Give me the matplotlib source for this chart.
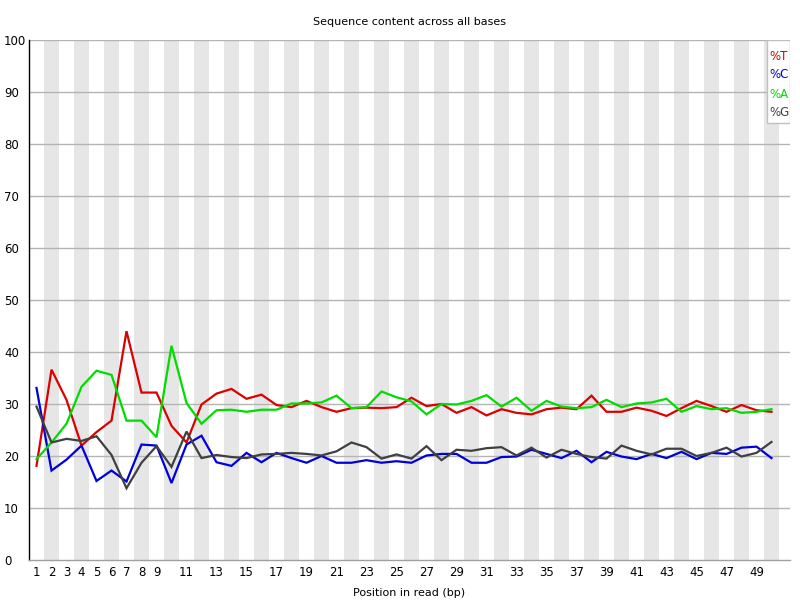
import matplotlib
matplotlib.use("Agg")
import matplotlib.pyplot as plt

positions = list(range(1, 51))

pct_T = [18.1, 36.6, 30.8, 22.0, 24.6, 26.8, 44.0, 32.2, 32.2, 25.8,
         22.6, 29.9, 32.0, 32.9, 31.0, 31.8, 29.8, 29.4, 30.6, 29.4,
         28.5, 29.2, 29.3, 29.2, 29.4, 31.2, 29.6, 30.0, 28.3, 29.4,
         27.8, 29.0, 28.3, 28.0, 29.0, 29.3, 29.0, 31.6, 28.5, 28.5,
         29.3, 28.7, 27.7, 29.2, 30.6, 29.6, 28.5, 29.8, 28.8, 28.5]

pct_C = [33.1, 17.2, 19.3, 22.0, 15.2, 17.2, 15.1, 22.2, 22.0, 14.8,
         22.2, 23.9, 18.8, 18.1, 20.6, 18.8, 20.6, 19.6, 18.7, 20.0,
         18.7, 18.7, 19.2, 18.7, 19.0, 18.7, 20.1, 20.4, 20.4, 18.7,
         18.7, 19.8, 19.9, 21.2, 20.4, 19.6, 21.0, 18.8, 20.8, 19.9,
         19.4, 20.4, 19.6, 20.8, 19.4, 20.6, 20.4, 21.6, 21.8, 19.6]

pct_A = [19.4, 22.6, 26.2, 33.3, 36.4, 35.6, 26.8, 26.8, 23.6, 41.2,
         30.2, 26.2, 28.8, 28.9, 28.5, 28.9, 28.9, 30.1, 30.1, 30.3,
         31.6, 29.2, 29.4, 32.4, 31.3, 30.5, 28.0, 30.0, 29.9, 30.6,
         31.7, 29.5, 31.2, 28.7, 30.6, 29.5, 29.2, 29.4, 30.8, 29.4,
         30.1, 30.3, 31.0, 28.5, 29.6, 29.0, 29.2, 28.3, 28.5, 29.0]

pct_G = [29.5, 22.6, 23.3, 22.9, 23.8, 20.2, 13.8, 18.7, 21.9, 17.9,
         24.7, 19.6, 20.2, 19.8, 19.6, 20.3, 20.4, 20.6, 20.4, 20.1,
         20.9, 22.6, 21.7, 19.5, 20.3, 19.5, 21.9, 19.2, 21.2, 21.0,
         21.5, 21.7, 20.1, 21.6, 19.7, 21.2, 20.4, 19.8, 19.5, 22.0,
         21.0, 20.3, 21.4, 21.4, 20.0, 20.6, 21.6, 19.9, 20.6, 22.7]

x_tick_labels = [1, 2, 3, 4, 5, 6, 7, 8, 9] + list(range(11, 50, 2))
y_ticks = list(range(0, 101, 10))

series = [("%T", pct_T, "#dc0000"), ("%C", pct_C, "#0000dc"),
          ("%A", pct_A, "#00dc00"), ("%G", pct_G, "#404040")]

fig = plt.figure(figsize=(8, 6), dpi=100)
W, H = 800, 600
ax = fig.add_axes([29 / W, 1 - 560 / H, (790 - 29) / W, (560 - 40) / H])

ax.set_xlim(0.5, 0.5 + 761 / 15)
ax.set_ylim(0, 100)

for p in positions:
    if p % 2 == 0:
        ax.axvspan(p - 0.5, p + 0.5, color="#e6e6e6", lw=0, zorder=0)

for y in y_ticks[1:]:
    ax.axhline(y, color="#b4b4b4", lw=1, zorder=1)

for name, vals, col in series:
    ax.plot(positions, vals, color=col, lw=1.6, zorder=3, solid_joinstyle="miter")

for s in ["top", "right"]:
    ax.spines[s].set_visible(False)
ax.spines["left"].set_color("black")
ax.spines["left"].set_linewidth(1)
ax.spines["bottom"].set_color("#a0a0a0")
ax.spines["bottom"].set_linewidth(1)

ax.set_yticks(y_ticks)
ax.set_yticklabels([str(v) for v in y_ticks], fontsize=8.5)
ax.tick_params(axis="y", length=0, pad=18)
for lab in ax.get_yticklabels():
    lab.set_horizontalalignment("left")

ax.set_xticks(x_tick_labels)
ax.set_xticklabels([str(v) for v in x_tick_labels], fontsize=8.5)
ax.tick_params(axis="x", length=0, pad=4)

ax.set_title("Sequence content across all bases", fontsize=8, pad=11)
ax.set_xlabel("Position in read (bp)", fontsize=8, labelpad=7)

# legend box
lx0, lx1, ly0, ly1 = 767, 790, 40, 123
ax.add_patch(plt.Rectangle((lx0 / W, 1 - ly1 / H), (lx1 - lx0) / W, (ly1 - ly0) / H,
                           transform=fig.transFigure, facecolor="white",
                           edgecolor="#c0c0c0", lw=1, zorder=5))
for i, (name, vals, col) in enumerate(series):
    fig.text((lx0 + 2) / W, 1 - (56 + 19 * i) / H, name, color=col,
             fontsize=8.5, ha="left", va="center", zorder=6)

fig.savefig("out.png", dpi=100)
